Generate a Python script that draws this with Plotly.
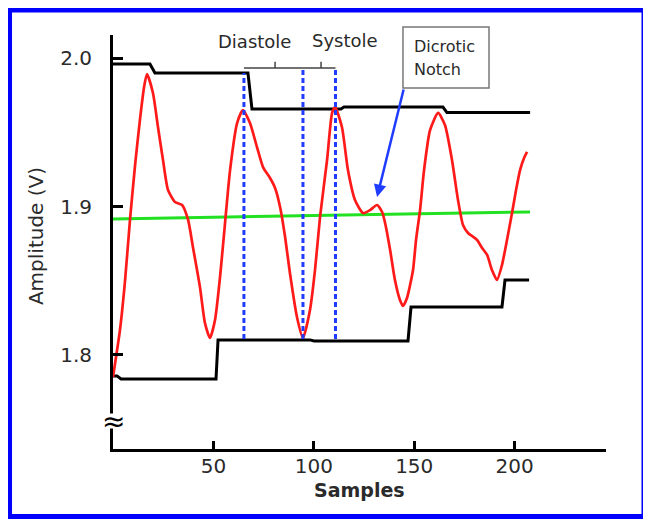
import plotly.graph_objects as go

# ---------------- data ----------------
signal_x = [0, 3.5, 6.0, 8.5, 11.0, 13.4, 15.4, 16.9, 19.9, 22.4, 24.9, 27.4, 30.9, 34.4,
            37.4, 39.8, 43.3, 45.8, 48.3, 50.8, 53.3, 55.8, 58.3, 61.8, 64.7, 68.2, 71.7,
            74.7, 78.2, 80.7, 83.2, 85.7, 88.1, 91.6, 94.6, 98.1, 100.6, 103.1, 106.6,
            109.1, 110.6, 114.0, 117.0, 120.5, 124.5, 128.0, 131.5, 134.0, 135.5, 138.0,
            140.4, 142.9, 144.4, 146.4, 149.4, 150.9, 152.9, 154.9, 157.9, 161.9, 165.3,
            168.8, 171.8, 174.3, 176.8, 178.8, 181.3, 183.8, 186.3, 188.7, 191.2, 193.7,
            196.2, 198.7, 200.7, 202.7, 204.7, 206.2]
signal_y = [1.785, 1.817, 1.850, 1.8916, 1.928, 1.9583, 1.980, 1.9894, 1.9766, 1.9536,
            1.9314, 1.9111, 1.9030, 1.901, 1.8909, 1.8727, 1.8457, 1.8214, 1.8113, 1.8234,
            1.8524, 1.8889, 1.9246, 1.9563, 1.9651, 1.9563, 1.9401, 1.9266, 1.9192, 1.9125,
            1.8997, 1.8794, 1.8551, 1.8255, 1.8113, 1.8302, 1.8572, 1.8929, 1.9314, 1.9631,
            1.9671, 1.9536, 1.9246, 1.9044, 1.8956, 1.8976, 1.9010, 1.8963, 1.8889, 1.8707,
            1.8504, 1.8369, 1.8329, 1.8383, 1.8572, 1.8774, 1.8976, 1.9246, 1.9516, 1.9631,
            1.9550, 1.9314, 1.9044, 1.8875, 1.8821, 1.8801, 1.8774, 1.8720, 1.8673, 1.8572,
            1.8504, 1.8605, 1.8774, 1.8956, 1.9111, 1.9246, 1.9327, 1.9368]

baseline_x = [0, 207.7]
baseline_y = [1.8916, 1.8963]

upper_x = [0, 18.4, 20.9, 67.2, 69.2, 113.5, 115.0, 164.3, 166.3, 207.7]
upper_y = [1.9961, 1.9961, 1.9900, 1.9900, 1.9658, 1.9658, 1.9671, 1.9671, 1.9634, 1.9634]

lower_x = [0, 2.0, 4.0, 51.3, 52.3, 98.1, 100.1, 146.9, 148.4, 193.7, 195.2, 207.2]
lower_y = [1.7857, 1.7857, 1.7836, 1.7836, 1.8100, 1.8100, 1.8093, 1.8093, 1.8322, 1.8322,
           1.8504, 1.8504]

marker_x = [65.2, 94.6, 110.8]          # dashed cycle markers
marker_top = [1.990, 1.9934, 1.9934]
marker_bottom = 1.8106

diastole_bracket_x = [65.2, 80.7, 80.7, 80.7, 94.6]
diastole_bracket_y = [1.9934, 1.9934, 1.9977, 1.9934, 1.9934]
systole_bracket_x = [94.6, 103.6, 103.6, 103.6, 110.8]
systole_bracket_y = [1.9934, 1.9934, 1.9977, 1.9934, 1.9934]

x_ticks = [50, 100, 150, 200]
y_ticks = [1.8, 1.9, 2.0]
y_tick_text = ["1.8", "1.9", "2.0"]

notch_tip = (131.5, 1.9064)
notch_tail = (144.9, 1.9799)

FONT = "DejaVu Sans"
TXT = "#2a2a2a"

fig = go.Figure()

fig.add_trace(go.Scatter(x=upper_x, y=upper_y, mode="lines",
                         line=dict(color="black", width=3), hoverinfo="skip"))
fig.add_trace(go.Scatter(x=lower_x, y=lower_y, mode="lines",
                         line=dict(color="black", width=3), hoverinfo="skip"))
fig.add_trace(go.Scatter(x=baseline_x, y=baseline_y, mode="lines",
                         line=dict(color="#22e022", width=3), hoverinfo="skip"))
fig.add_trace(go.Scatter(x=signal_x, y=signal_y, mode="lines",
                         line=dict(color="#ff1a1a", width=2.7, shape="spline", smoothing=0.6),
                         hoverinfo="skip"))
for mx, mt in zip(marker_x, marker_top):
    fig.add_trace(go.Scatter(x=[mx, mx], y=[marker_bottom, mt], mode="lines",
                             line=dict(color="#1f3cff", width=3, dash="5px,3px"),
                             hoverinfo="skip"))
fig.add_trace(go.Scatter(x=diastole_bracket_x, y=diastole_bracket_y, mode="lines",
                         line=dict(color="#444", width=1.5), hoverinfo="skip"))
fig.add_trace(go.Scatter(x=systole_bracket_x, y=systole_bracket_y, mode="lines",
                         line=dict(color="#444", width=1.5), hoverinfo="skip"))

annotations = [
    dict(x=70.7, y=2.011, xref="x", yref="y", text="Diastole", showarrow=False,
         xanchor="center", yanchor="middle",
         font=dict(family=FONT, size=18, color=TXT)),
    dict(x=115.5, y=2.0123, xref="x", yref="y", text="Systole", showarrow=False,
         xanchor="center", yanchor="middle",
         font=dict(family=FONT, size=18, color=TXT)),
    dict(x=0.6065, y=0.9734, xref="paper", yref="paper", text="Dicrotic", showarrow=False,
         xanchor="left", yanchor="middle", font=dict(family=FONT, size=16, color=TXT)),
    dict(x=0.6065, y=0.9155, xref="paper", yref="paper", text="Notch", showarrow=False,
         xanchor="left", yanchor="middle", font=dict(family=FONT, size=16, color=TXT)),
    dict(x=notch_tip[0], y=notch_tip[1], xref="x", yref="y",
         ax=notch_tail[0], ay=notch_tail[1], axref="x", ayref="y",
         text="", showarrow=True, arrowhead=2, arrowsize=1, arrowwidth=2.5,
         arrowcolor="#1f3cff", standoff=0),
    dict(x=0.5, y=-0.1, xref="paper", yref="paper", text="<b>Samples</b>", showarrow=False,
         xanchor="center", yanchor="middle",
         font=dict(family=FONT, size=19, color=TXT)),
    dict(x=-0.156, y=0.5145, xref="paper", yref="paper", text="Amplitude (V)",
         xanchor="center", yanchor="middle",
         showarrow=False, textangle=-90, font=dict(family=FONT, size=20, color=TXT)),
    dict(x=0, y=0.0676, xref="paper", yref="paper", text="≈", showarrow=False,
         xanchor="center", yanchor="middle",
         font=dict(family=FONT, size=28, color="black"), bgcolor="white",
         height=14, borderpad=0),
]

shapes = [
    dict(type="rect", xref="paper", yref="paper", x0=-0.2099, x1=1.0771, y0=-0.163, y1=1.0604,
         line=dict(color="#0000ff", width=5), layer="above"),
    dict(type="rect", xref="paper", yref="paper", x0=0.5882, x1=0.7627, y0=0.872, y1=1.0193,
         line=dict(color="#777", width=1.5), fillcolor="white", layer="above"),
]

fig.update_layout(
    width=643, height=513, autosize=False,
    margin=dict(l=105, r=45, t=27, b=72),
    paper_bgcolor="white", plot_bgcolor="white",
    showlegend=False,
    annotations=annotations, shapes=shapes,
    xaxis=dict(range=[0, 245.5], tickvals=x_ticks, ticks="inside", ticklen=8, tickwidth=3,
               tickcolor="black", showline=True, linewidth=3, linecolor="black",
               showgrid=False, zeroline=False, ticklabelstandoff=-3,
               tickfont=dict(family=FONT, size=20, color=TXT)),
    yaxis=dict(range=[1.7364, 2.0157], tickvals=y_ticks, ticktext=y_tick_text,
               ticks="inside", ticklen=10, tickwidth=3, tickcolor="black",
               showline=True, linewidth=3, linecolor="black",
               showgrid=False, zeroline=False, ticklabelstandoff=14,
               tickfont=dict(family=FONT, size=20, color=TXT)),
)

fig.write_html("out.html")
